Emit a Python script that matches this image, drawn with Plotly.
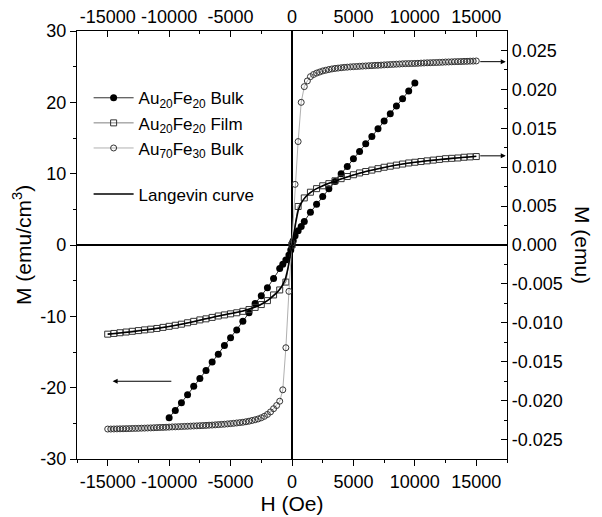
import plotly.graph_objects as go

# ---------------- data ----------------
# Au20Fe20 Bulk (filled circles)
H_bulk20 = [-10000, -9500, -9000, -8500, -8000, -7500, -7000, -6500, -6000, -5500,
            -5000, -4500, -4000, -3500, -3000, -2500, -2000, -1500, -1000, -750,
            -500, -250, -100, 0, 100, 250, 500, 750, 1000, 1500, 2000, 2500, 3000,
            3500, 4000, 4500, 5000, 5500, 6000, 6500, 7000, 7500, 8000, 8500, 9000,
            9500, 10000]
M_bulk20 = [-24.2, -23.2, -22.1, -21.0, -19.8, -18.7, -17.6, -16.4, -15.3, -14.1,
            -13.0, -11.9, -10.7, -9.5, -8.2, -7.1, -6.0, -4.7, -3.3, -2.7,
            -2.1, -1.4, -0.7, 0.0, 0.6, 1.3, 2.0, 2.6, 3.3, 4.6, 5.7, 6.8, 7.9,
            8.9, 10.0, 11.0, 12.1, 13.1, 14.2, 15.2, 16.3, 17.4, 18.4, 19.5, 20.5,
            21.6, 22.7]

# Au20Fe20 Film (open squares)
H_film = [-15000, -14500, -14000, -13500, -13000, -12500, -12000, -11500, -11000, -10500,
          -10000, -9500, -9000, -8500, -8000, -7500, -7000, -6500, -6000, -5500,
          -5000, -4500, -4000, -3500, -3000, -2500, -2000, -1500, -1000, -500,
          0, 500, 1000, 1500, 2000, 2500, 3000, 3500, 4000, 4500,
          5000, 5500, 6000, 6500, 7000, 7500, 8000, 8500, 9000, 9500,
          10000, 10500, 11000, 11500, 12000, 12500, 13000, 13500, 14000, 14500, 15000]
M_film = [-12.5, -12.4, -12.3, -12.2, -12.1, -12.0, -11.9, -11.8, -11.7, -11.55,
          -11.4, -11.25, -11.1, -10.9, -10.7, -10.5, -10.35, -10.15, -9.95, -9.8,
          -9.65, -9.5, -9.3, -9.05, -8.75, -8.35, -7.8, -7.0, -6.3, -5.2,
          0.0, 5.4, 6.6, 7.4, 7.9, 8.3, 8.6, 9.0, 9.3, 9.6,
          9.85, 10.1, 10.3, 10.5, 10.7, 10.9, 11.05, 11.2, 11.35, 11.5,
          11.6, 11.7, 11.8, 11.9, 12.0, 12.1, 12.15, 12.2, 12.3, 12.35, 12.4]

# Au70Fe30 Bulk (open circles)
H_bulk70 = [-15000, -14750, -14500, -14250, -14000, -13750, -13500, -13250, -13000, -12750,
            -12500, -12250, -12000, -11750, -11500, -11250, -11000, -10750, -10500, -10250,
            -10000, -9750, -9500, -9250, -9000, -8750, -8500, -8250, -8000, -7750,
            -7500, -7250, -7000, -6750, -6500, -6250, -6000, -5750, -5500, -5250,
            -5000, -4750, -4500, -4250, -4000, -3750, -3500, -3250, -3000, -2750,
            -2500, -2250, -2000, -1750, -1500, -1250, -1000, -750, -500, -250,
            0,
            250, 500, 750, 1000, 1250, 1500, 1750, 2000, 2250, 2500,
            2750, 3000, 3250, 3500, 3750, 4000, 4250, 4500, 4750, 5000,
            5250, 5500, 5750, 6000, 6250, 6500, 6750, 7000, 7250, 7500,
            7750, 8000, 8250, 8500, 8750, 9000, 9250, 9500, 9750, 10000,
            10250, 10500, 10750, 11000, 11250, 11500, 11750, 12000, 12250, 12500,
            12750, 13000, 13250, 13500, 13750, 14000, 14250, 14500, 14750, 15000]
M_bulk70 = [-25.8, -25.8, -25.79, -25.78, -25.77, -25.76, -25.75, -25.74, -25.72, -25.71,
            -25.7, -25.68, -25.67, -25.65, -25.64, -25.62, -25.6, -25.58, -25.57, -25.55,
            -25.53, -25.5, -25.49, -25.47, -25.45, -25.43, -25.41, -25.39, -25.37, -25.35,
            -25.33, -25.31, -25.29, -25.26, -25.24, -25.21, -25.18, -25.15, -25.12, -25.08,
            -25.04, -25.0, -24.95, -24.9, -24.85, -24.78, -24.7, -24.6, -24.5, -24.38,
            -24.22, -24.02, -23.75, -23.4, -22.95, -22.5, -21.9, -20.3, -14.4, -6.5,
            0.3,
            8.5, 14.5, 20.0, 22.2, 23.0, 23.6, 23.9, 24.1, 24.25, 24.4,
            24.5, 24.6, 24.68, 24.75, 24.8, 24.85, 24.9, 24.93, 24.97, 25.0,
            25.02, 25.05, 25.08, 25.1, 25.13, 25.15, 25.18, 25.2, 25.22, 25.25,
            25.27, 25.3, 25.32, 25.35, 25.37, 25.4, 25.42, 25.43, 25.44, 25.45,
            25.47, 25.5, 25.52, 25.54, 25.55, 25.57, 25.58, 25.6, 25.62, 25.65,
            25.66, 25.68, 25.7, 25.71, 25.72, 25.74, 25.75, 25.77, 25.78, 25.8]

# Langevin curve (fit through film data)
H_lang = [-15000, -13000, -11000, -9000, -7000, -6000, -5000, -4000, -3000, -2500,
          -2000, -1500, -1200, -1000, -800, -600, -500, -400, -300, -200, -100, 0,
          100, 200, 300, 400, 500, 600, 800, 1000, 1200, 1500, 2000, 2500, 3000,
          4000, 5000, 6000, 7000, 9000, 11000, 13000, 15000]
M_lang = [-12.5, -12.15, -11.7, -11.1, -10.35, -9.95, -9.6, -9.25, -8.7, -8.3,
          -7.8, -7.1, -6.6, -6.2, -5.7, -5.0, -4.5, -3.8, -3.0, -2.0, -1.0, 0.0,
          1.0, 2.0, 3.1, 4.0, 4.8, 5.3, 6.0, 6.5, 6.9, 7.35, 7.9, 8.3, 8.65,
          9.25, 9.8, 10.3, 10.7, 11.35, 11.8, 12.15, 12.45]

# tick labels
x_ticks = [-15000, -10000, -5000, 0, 5000, 10000, 15000]
x_ticktext = ["-15000", "-10000", "-5000", "0", "5000", "10000", "15000"]
yl_ticks = [-30, -20, -10, 0, 10, 20, 30]
yl_ticktext = ["-30", "-20", "-10", "0", "10", "20", "30"]
yr_ticks = [-0.025, -0.020, -0.015, -0.010, -0.005, 0.0, 0.005, 0.010, 0.015, 0.020, 0.025]
yr_ticktext = ["-0.025", "-0.020", "-0.015", "-0.010", "-0.005", "0.000",
               "0.005", "0.010", "0.015", "0.020", "0.025"]

FONT = "Liberation Sans, Arial, sans-serif"

fig = go.Figure()
fig.add_trace(go.Scatter(
    x=H_bulk20, y=M_bulk20, mode="lines+markers",
    name="Au<sub>20</sub>Fe<sub>20</sub> Bulk", legendgroup="a",
    line=dict(color="#303030", width=1),
    marker=dict(symbol="circle", size=7, color="black")))
fig.add_trace(go.Scatter(
    x=H_film, y=M_film, mode="lines+markers",
    name="Au<sub>20</sub>Fe<sub>20</sub> Film", legendgroup="a",
    line=dict(color="#808080", width=1),
    marker=dict(symbol="square-open", size=6, color="#333333", line=dict(width=1))))
fig.add_trace(go.Scatter(
    x=H_bulk70, y=M_bulk70, mode="lines+markers",
    name="Au<sub>70</sub>Fe<sub>30</sub> Bulk", legendgroup="a",
    line=dict(color="#b0b0b0", width=1),
    marker=dict(symbol="circle-open", size=6, color="#333333", line=dict(width=1))))
fig.add_trace(go.Scatter(
    x=H_lang, y=M_lang, mode="lines", line_shape="spline",
    name="Langevin curve", legendgroup="b",
    line=dict(color="black", width=1.6)))

axis_common = dict(showgrid=False, showline=True, linecolor="black", linewidth=1.3,
                   tickcolor="black", tickwidth=1.2, automargin=False,
                   tickfont=dict(family=FONT, size=18, color="black"))

fig.update_layout(
    width=602, height=517,
    margin=dict(l=69, r=103, t=23, b=66),
    paper_bgcolor="white", plot_bgcolor="white",
    font=dict(family=FONT, color="black"),
    showlegend=True,
    legend=dict(x=0.027, y=0.885, xanchor="left", yanchor="top",
                bgcolor="rgba(0,0,0,0)", font=dict(family=FONT, size=17),
                itemwidth=40, traceorder="grouped", tracegroupgap=21),
    xaxis=dict(range=[-17500, 17500], tickmode="array", tickvals=x_ticks, ticktext=x_ticktext,
               ticks="outside", ticklen=6,
               minor=dict(dtick=2500, tick0=0, ticks="outside", ticklen=3, tickcolor="black"),
               zeroline=True, zerolinecolor="black", zerolinewidth=2,
               title=dict(text="H (Oe)", font=dict(family=FONT, size=21), standoff=0),
               **axis_common),
    xaxis2=dict(range=[-17500, 17500], overlaying="x", side="top", anchor="y",
                tickmode="array", tickvals=x_ticks, ticktext=x_ticktext,
                ticks="inside", ticklen=6,
                minor=dict(dtick=2500, tick0=0, ticks="inside", ticklen=3, tickcolor="black"),
                zeroline=False, **axis_common),
    yaxis=dict(range=[-30, 30], tickmode="array", tickvals=yl_ticks, ticktext=yl_ticktext,
               ticks="outside", ticklen=6,
               minor=dict(dtick=5, tick0=0, ticks="outside", ticklen=3, tickcolor="black"),
               zeroline=True, zerolinecolor="black", zerolinewidth=2,
               **axis_common),
    yaxis2=dict(range=[-0.0275, 0.0275], overlaying="y", side="right", anchor="x",
                tickmode="array", tickvals=yr_ticks, ticktext=yr_ticktext,
                ticks="inside", ticklen=6,
                minor=dict(dtick=0.0025, tick0=0, ticks="inside", ticklen=3, tickcolor="black"),
                zeroline=False, **axis_common),
)

# invisible trace to activate the top and right axes
fig.add_trace(go.Scatter(x=[0], y=[0], xaxis="x2", yaxis="y2", mode="markers",
                         marker=dict(opacity=0), showlegend=False, hoverinfo="skip"))

annotations = [
    dict(x=-14600, y=-19.1, ax=-9700, ay=-19.1),
    dict(x=17400, y=25.7, ax=15200, ay=25.7),
    dict(x=17400, y=12.5, ax=15200, ay=12.5),
]
for a in annotations:
    fig.add_annotation(xref="x", yref="y", axref="x", ayref="y", text="",
                       showarrow=True, arrowhead=2, arrowsize=1, arrowwidth=1,
                       arrowcolor="black", **a)

fig.add_annotation(text="M (emu/cm<sup>3</sup>)", xref="paper", yref="paper",
                   x=-0.128, y=0.5, xanchor="center", yanchor="middle",
                   textangle=-90, showarrow=False,
                   font=dict(family=FONT, size=21))
fig.add_annotation(text="M (emu)", xref="paper", yref="paper",
                   x=1.177, y=0.5, xanchor="center", yanchor="middle",
                   textangle=90, showarrow=False,
                   font=dict(family=FONT, size=21))

fig.write_html("out.html")
